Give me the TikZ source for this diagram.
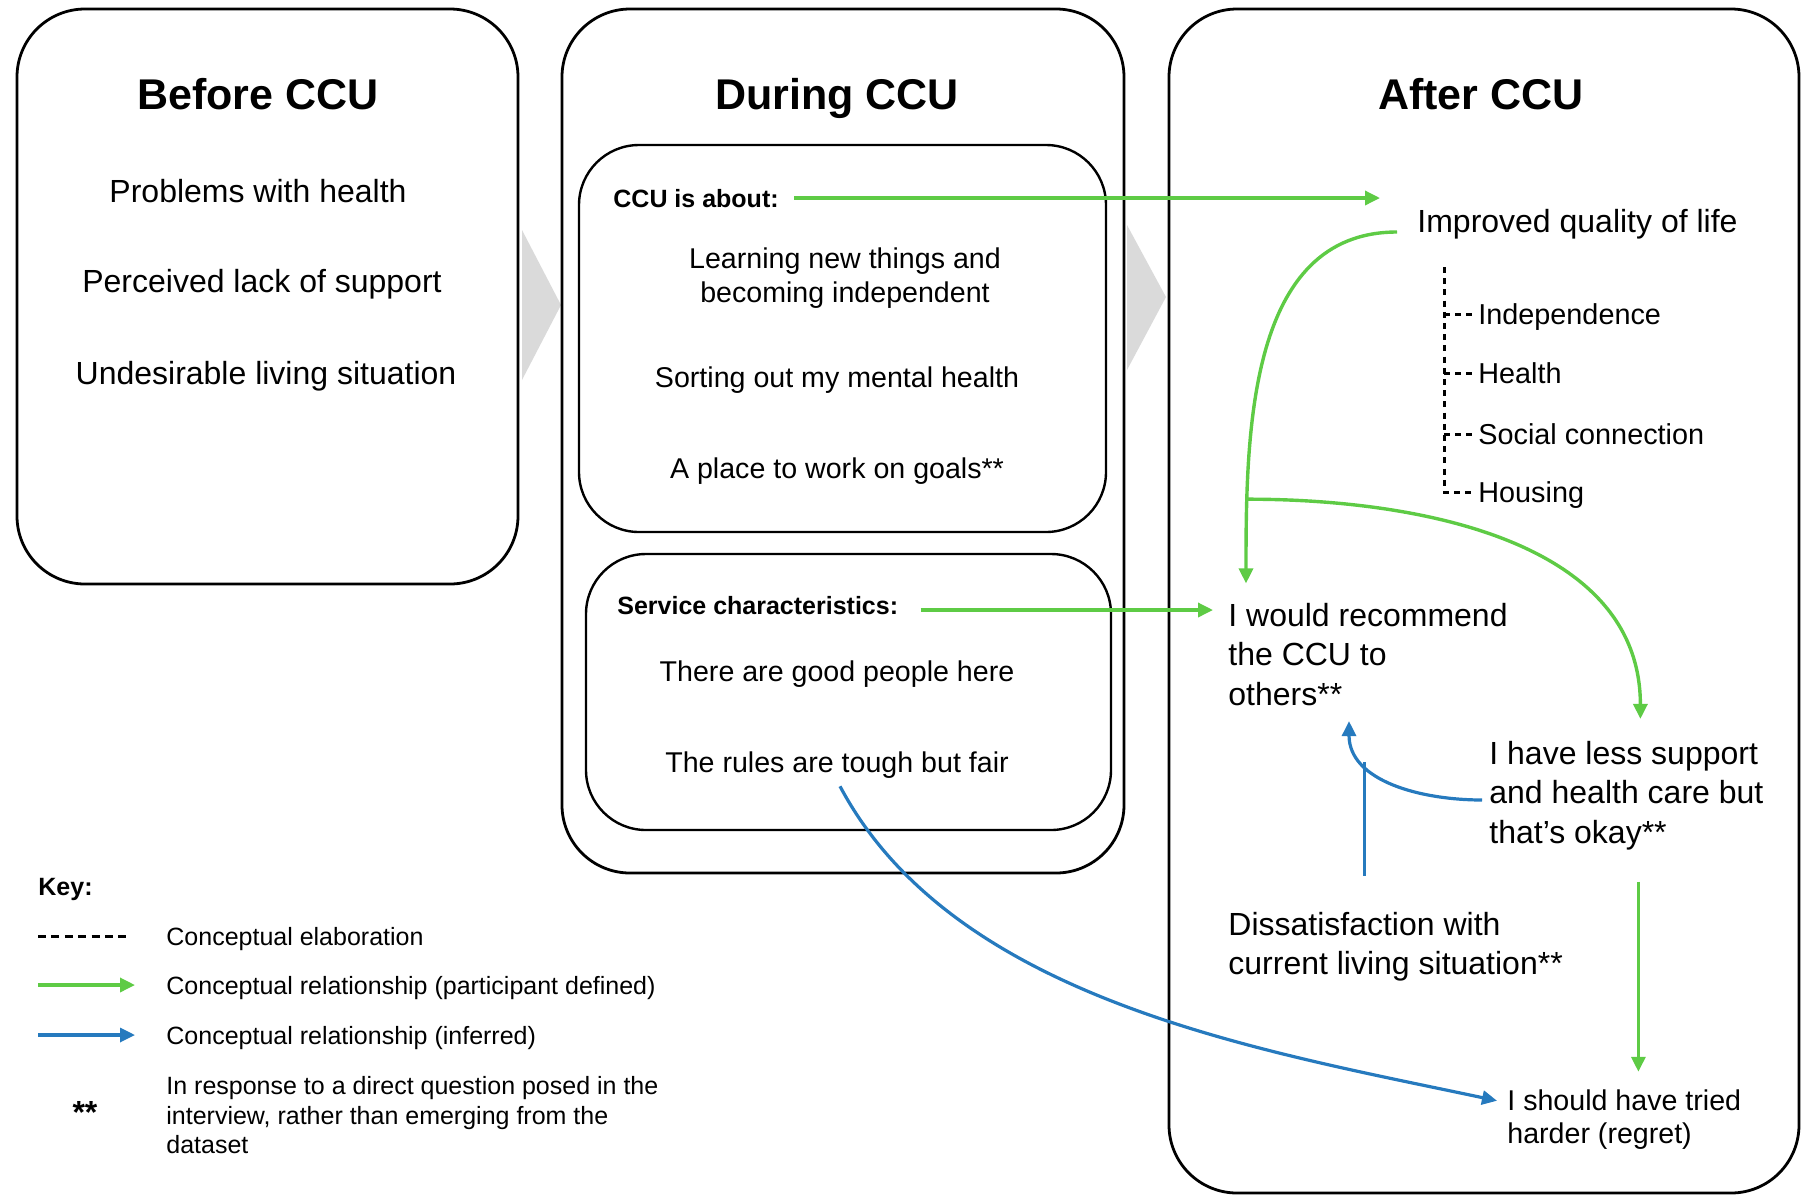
\documentclass[tikz,border=0pt]{standalone}
\usepackage{fontspec}
\setmainfont{Liberation Sans}
\usetikzlibrary{positioning, arrows.meta}

\definecolor{relgreen}{RGB}{94,203,69}
\definecolor{relblue}{RGB}{38,122,190}
\definecolor{flowgray}{RGB}{218,218,218}

\begin{document}
\begin{tikzpicture}[
    x=0.5pt, y=-0.5pt, >={Triangle[length=7.5pt, width=7pt]},
    phase/.style={draw, line width=1.4pt, rounded corners=34pt},
    subpanel/.style={draw, line width=1.2pt, rounded corners=30pt},
    phasetitle/.style={font=\bfseries\fontsize{21.5}{26}\selectfont, text depth=0pt},
    panelhead/.style={anchor=west, inner sep=0pt, text depth=0pt, font=\bfseries\fontsize{12.5}{15}\selectfont},
    beforeitem/.style={inner sep=0pt, text depth=0pt, font=\fontsize{16}{20}\selectfont},
    duringitem/.style={inner sep=0pt, text depth=0pt, align=center, font=\fontsize{14.3}{16.8}\selectfont},
    outcome/.style={anchor=west, inner sep=0pt, text depth=0pt, align=left, font=\fontsize{16}{19.8}\selectfont},
    aspect/.style={anchor=west, inner sep=0pt, text depth=0pt, font=\fontsize{14.4}{17}\selectfont},
    keytext/.style={anchor=west, inner sep=0pt, text depth=0pt, align=left, font=\fontsize{12.5}{14.7}\selectfont},
    given/.style={->, relgreen, line width=1.7pt},
    inferred/.style={->, relblue, line width=1.6pt},
    elab/.style={line width=1.5pt, dash pattern=on 3pt off 2.6pt}
]
    \useasboundingbox (0,0) rectangle (1806,1196);

    % Phase panels and the grey arrows between them
    \fill[flowgray] (522,230) -- (561,305) -- (522,380) -- cycle;
    \fill[flowgray] (1127,225) -- (1166,297) -- (1127,370) -- cycle;
    \draw[phase] (17,9) rectangle (518,584);
    \draw[phase] (562,9) rectangle (1124,873);
    \draw[phase] (1169,9) rectangle (1799,1193);
    \draw[subpanel] (579,145) rectangle (1106,532);
    \draw[subpanel] (586,554) rectangle (1111,830);

    % Titles
    \node[phasetitle] (before) at (258,94) {Before CCU};
    \node[phasetitle] (during) at (837,94) {During CCU};
    \node[phasetitle] (after) at (1481,94) {After CCU};

    % Before CCU
    \node[beforeitem] (prob) at (258,191) {Problems with health};
    \node[beforeitem, below of=prob, node distance=45pt, xshift=2pt] (lack) {Perceived lack of support};
    \node[beforeitem, below of=lack, node distance=46pt, xshift=2pt] (undes) {Undesirable living situation};

    % During CCU: what it is about
    \node[panelhead] (about) at (613,198) {CCU is about:};
    \node[duringitem] (learn) at (845,275) {Learning new things and\\becoming independent};
    \node[duringitem, below of=learn, node distance=51pt, xshift=-4pt] (mental) {Sorting out my mental health};
    \node[duringitem, below of=mental, node distance=45.5pt] (goals) {A place to work on goals**};

    % During CCU: service
    \node[panelhead] (service) at (617,605) {Service characteristics:};
    \node[duringitem] (people) at (837,671) {There are good people here};
    \node[duringitem, below of=people, node distance=45.5pt] (rules) {The rules are tough but fair};

    % After CCU
    \node[outcome] (qol) at (1417,221) {Improved quality of life};
    \node[aspect] (indep) at (1478,314) {Independence};
    \node[aspect, below=29.5pt of indep.west, anchor=west] (hlth) {Health};
    \node[aspect, below=30.5pt of hlth.west, anchor=west] (social) {Social connection};
    \node[aspect, below=29pt of social.west, anchor=west] (housing) {Housing};
    \node[outcome] (recommend) at (1228,654) {I would recommend\\the CCU to\\others**};
    \node[outcome] (lesssup) at (1489,792) {I have less support\\and health care but\\that’s okay**};
    \node[outcome] (dissat) at (1228,943.5) {Dissatisfaction with\\current living situation**};
    \node[outcome, font=\fontsize{14.3}{16.5}\selectfont] (regret) at (1507,1116.5) {I should have tried\\harder (regret)};

    % Elaboration of quality of life
    \coordinate (elabtop) at (1444,267);
    \draw[elab] (elabtop) -- (elabtop |- housing.west) -- ([xshift=-3pt]housing.west);
    \foreach \asp in {indep, hlth, social}
        \draw[elab] (elabtop |- \asp.west) -- ([xshift=-3pt]\asp.west);

    % Participant defined relationships
    \draw[given] ([xshift=7.5pt]about.east) -- ([xshift=-18.5pt]about.east -| qol.west);
    \draw[given] ([shift={(11pt,-2.5pt)}]service.east) -- ([shift={(-7.5pt,-2.5pt)}]service.east -| recommend.west);
    \draw[given] ([shift={(-10pt,-5.5pt)}]qol.west) to[out=180, in=90]
        coordinate[pos=0.82] (branch) ([shift={(9pt,9.5pt)}]recommend.north west);
    \draw[given] (branch) to[out=0, in=90] ([shift={(7pt,10.75pt)}]lesssup.north);
    \draw[given] ([shift={(6pt,-19pt)}]lesssup.south) -- ([shift={(6pt,8.75pt)}]lesssup.south |- regret.north);

    % Inferred relationships
    \draw[inferred] ([shift={(-3.5pt,-4pt)}]lesssup.west) to[out=180, in=-90]
        coordinate[pos=0.72] (merge) ([shift={(-9.5pt,-7.75pt)}]recommend.south);
    \draw[inferred, -] ([yshift=18pt]merge |- dissat.north) -- (merge);
    \draw[inferred] ([shift={(1.5pt,-6.75pt)}]rules.south) to[out=-62, in=168, looseness=0.85]
        ([shift={(-5pt,-5.75pt)}]regret.north west);

    % Key
    \node[panelhead] (keyhead) at (38,887) {Key:};
    \node[keytext] (keyelab) at (166,936) {Conceptual elaboration};
    \node[keytext] (keygiven) at (166,985) {Conceptual relationship (participant defined)};
    \node[keytext] (keyinfer) at (166,1035) {Conceptual relationship (inferred)};
    \node[keytext] (keynote) at (166,1115) {In response to a direct question posed in the\\interview, rather than emerging from the\\dataset};
    \node[inner sep=0pt, font=\bfseries\fontsize{16}{18}\selectfont] (keystar) at (85,1112) {**};
    \draw[line width=1.5pt, dash pattern=on 4pt off 2.7pt] (keyhead.west |- keyelab.west) -- ([xshift=-18pt]keyelab.west);
    \draw[given] (keyhead.west |- keygiven.west) -- ([xshift=-15.5pt]keygiven.west);
    \draw[inferred] (keyhead.west |- keyinfer.west) -- ([xshift=-15.5pt]keyinfer.west);

\end{tikzpicture}
\end{document}
